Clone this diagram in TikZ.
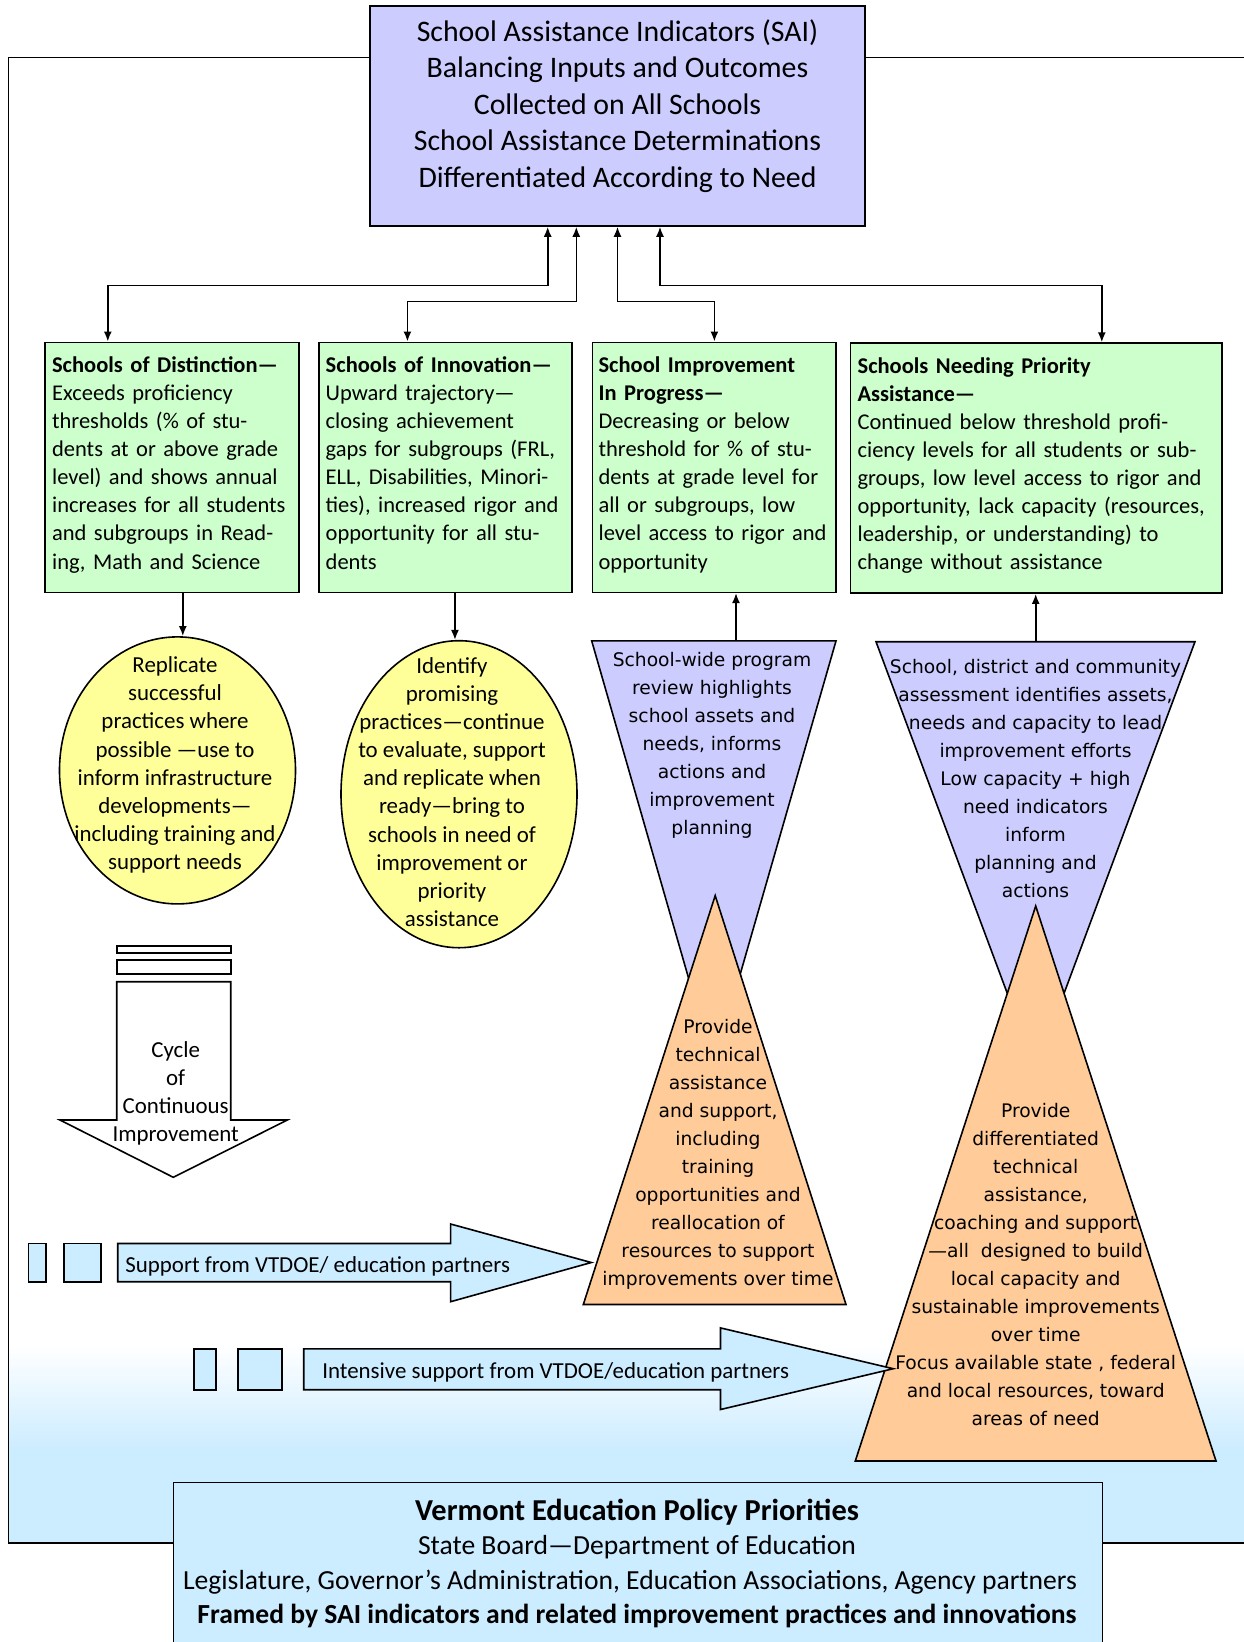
\documentclass[tikz,border=0pt]{standalone}
\usepackage{fontspec}
\setmainfont{Carlito}
\newfontfamily\verd{DejaVu Sans}
\usetikzlibrary{calc, arrows.meta, shapes.geometric}
\definecolor{lav}{HTML}{CCCCFF}
\definecolor{mint}{HTML}{CCFFCC}
\definecolor{lemon}{HTML}{FFFF99}
\definecolor{peach}{HTML}{FFCC99}
\definecolor{sky}{HTML}{CCECFF}
\newcommand{\catfont}{\fontsize{22.5}{28.1}\selectfont}
\newcommand{\ovalfont}{\fontsize{22.9}{28.1}\selectfont}
\newcommand{\trifont}{\verd\fontsize{18.7}{28}\selectfont}
\newcommand{\headfont}{\fontsize{29.8}{36.5}\selectfont}
\newcommand{\basefont}{\fontsize{27.6}{34.4}\selectfont}
\tikzstyle{sai}=[draw, fill=lav, minimum width=495pt, minimum height=220pt]
\tikzstyle{cat}=[draw, fill=mint, anchor=north west, align=left, minimum height=250pt, inner xsep=7pt, font=\catfont]
\tikzstyle{oval}=[draw, ellipse, fill=lemon]
\tikzstyle{txt}=[align=center, font=\ovalfont]
\tikzstyle{tri}=[align=center, font=\trifont]
\tikzstyle{fat}=[draw, fill=sky]

\begin{document}
\begin{tikzpicture}[x=1pt, y=-1pt, line width=1.6pt, >={Latex[length=10pt,width=8pt]}]
      \useasboundingbox (0,0) rectangle (1243,1642);
      % outer frame, shaded at the foot
      \shade[top color=white, bottom color=sky] (8.3,1345) rectangle (1250,1450);
      \fill[sky] (8.3,1449) rectangle (1250,1543);
      \draw (1250,57.3) -- (8.3,57.3) -- (8.3,1543) -- (1250,1543);

      \node [sai] (sai) at (617.5,116) {};
      \node [align=center, font=\headfont] (saitext) at (617.5,106) {School Assistance Indicators (SAI)\\Balancing Inputs and Outcomes\\Collected on All Schools\\School Assistance Determinations\\Differentiated According to Need};

      % the four determinations
      \node [cat, text width=239.6pt] (dist) at (44.3,341.5) {\textbf{Schools of Distinction—}\\Exceeds proficiency\\thresholds (\% of stu-\\dents at or above grade\\level) and shows annual\\increases for all students\\and subgroups in Read-\\ing, Math and Science\rule[-9pt]{0pt}{0pt}};
      \node [cat, text width=239.5pt] (innov) at (317.9,341.5) {\textbf{Schools of Innovation—}\\Upward trajectory—\\closing achievement\\gaps for subgroups (FRL,\\ELL, Disabilities, Minori-\\ties), increased rigor and\\opportunity for all stu-\\dents\rule[-9pt]{0pt}{0pt}};
      \node [cat, inner xsep=6pt, text width=231.6pt] (prog) at (591.8,341.5) {\textbf{School Improvement}\\\textbf{In Progress—}\\Decreasing or below\\threshold for \% of stu-\\dents at grade level for\\all or subgroups, low\\level access to rigor and\\opportunity\rule[-9pt]{0pt}{0pt}};
      \node [cat, text width=357.2pt] (need) at (849.8,342.3) {\textbf{Schools Needing Priority}\\\textbf{Assistance—}\\Continued below threshold profi-\\ciency levels for all students or sub-\\groups, low level access to rigor and\\opportunity, lack capacity (resources,\\leadership, or understanding) to\\change without assistance\rule[-9pt]{0pt}{0pt}};

      \draw[<->] ([xshift=-69.8pt]sai.south) -- ++(0,58.5) -| ([xshift=-64.1pt]dist.north);
      \draw[<->] ([xshift=-41.2pt]sai.south) -- ++(0,74.7) -| ([xshift=-38pt]innov.north);
      \draw[<->] (sai.south) -- ++(0,74.7) -| (prog.north);
      \draw[<->] ([xshift=42.5pt]sai.south) -- ++(0,58.5) -| ([xshift=65.6pt]need.north);

      % ovals
      \node [oval, minimum width=236pt, minimum height=267pt] (rep) at (177.5,770.4) {};
      \node [oval, minimum width=236pt, minimum height=307pt] (ident) at (459,794.2) {};
      \node [txt] (reptext) at (175,765) {Replicate\\successful\\practices where\\possible —use to\\inform infrastructure\\developments—\\including training and\\support needs};
      \node [txt] (idtext) at (452,792) {Identify\\promising\\practices—continue\\to evaluate, support\\and replicate when\\ready—bring to\\schools in need of\\improvement or\\priority\\assistance};
      \coordinate (a1) at ([xshift=10.9pt]dist.south);
      \coordinate (a2) at ([xshift=9.5pt]innov.south);
      \draw[->] (a1) -- (a1 |- rep.north);
      \draw[->] (a2) -- (a2 |- ident.north);

      % hourglasses
      \draw[fill=lav] (591.7,640.9) -- (836,640.9) -- (713.8,1066) -- cycle;
      \draw[fill=lav] (876,641.7) -- (1195,641.7) -- (1035.7,1069.4) -- cycle;
      \draw[fill=peach] (715.2,895.6) -- (846,1304.5) -- (583.3,1304.5) -- cycle;
      \draw[fill=peach] (1035.7,906) -- (1216,1461) -- (855.3,1461) -- cycle;
      \coordinate (revtop) at (736,640.9);
      \coordinate (asstop) at (1035.7,641.7);
      \draw[->] (revtop) -- (revtop |- prog.south);
      \draw[->] (asstop) -- (asstop |- need.south);
      \node [tri] (revtext) at (712,745) {School-wide program\\review highlights\\school assets and\\needs, informs\\actions and\\improvement\\planning};
      \node [tri] (asstext) at (1035.5,778.6) {School, district and community\\assessment identifies assets,\\needs and capacity to lead\\improvement efforts\\Low capacity + high\\need indicators\\inform\\planning and\\actions};
      \node [tri] (tatext) at (718,1154) {Provide\\technical\\assistance\\and support,\\including\\training\\opportunities and\\reallocation of\\resources to support\\improvements over time};
      \node [tri] (difftext) at (1035.7,1265) {Provide\\differentiated\\technical\\assistance,\\coaching and support\\—all\ \ designed to build\\local capacity and\\sustainable improvements\\over time\\Focus available state , federal\\and local resources, toward\\areas of need};

      % cycle arrow
      \draw[fill=white] (116.7,945.7) rectangle (230.7,952.7);
      \draw[fill=white] (116.7,960) rectangle (230.7,974);
      \draw[fill=white] (116.7,981.7) -- (230.7,981.7) -- (230.7,1120) -- (287.3,1120) -- (173.3,1177.3) -- (60,1120) -- (116.7,1120) -- cycle;
      \node [txt] (cyc) at (175.7,1093.3) {Cycle\\of\\Continuous\\Improvement};

      % support arrows
      \draw[fat] (28.5,1243.5) rectangle (46,1281.7);
      \draw[fat] (64,1243.5) rectangle (100.7,1281.7);
      \draw[fat] (117.7,1243.5) -- (450.6,1243.5) -- (450.6,1224) -- (591.3,1262.5) -- (450.6,1301.7) -- (450.6,1281.7) -- (117.7,1281.7) -- cycle;
      \node [anchor=west, inner sep=0pt, font=\ovalfont] (sup) at (124.6,1266.5) {Support from VTDOE/ education partners};
      \draw[fat] (193.7,1348.8) rectangle (215.7,1389.7);
      \draw[fat] (237.7,1348.8) rectangle (281.7,1389.7);
      \draw[fat] (303.7,1348.8) -- (720.5,1348.8) -- (720.5,1327.9) -- (893.3,1368.7) -- (720.5,1409.5) -- (720.5,1389.7) -- (303.7,1389.7) -- cycle;
      \node [anchor=west, inner sep=0pt, font=\ovalfont] (intsup) at (321.5,1372) {Intensive support from VTDOE/education partners};

      % policy base
      \node [draw, fill=sky, anchor=north west, minimum width=929pt, minimum height=200pt] (vep) at (172.8,1481.7) {};
      \node [align=center, font=\basefont] (veptext) at (637,1563.4) {{\fontsize{30.4}{34.4}\selectfont\textbf{Vermont Education Policy Priorities}}\\State Board—Department of Education\\Legislature, Governor’s Administration, Education Associations, Agency partners\hspace*{14pt}\mbox{}\\\textbf{Framed by SAI indicators and related improvement practices and innovations}};
  \end{tikzpicture}
\end{document}
